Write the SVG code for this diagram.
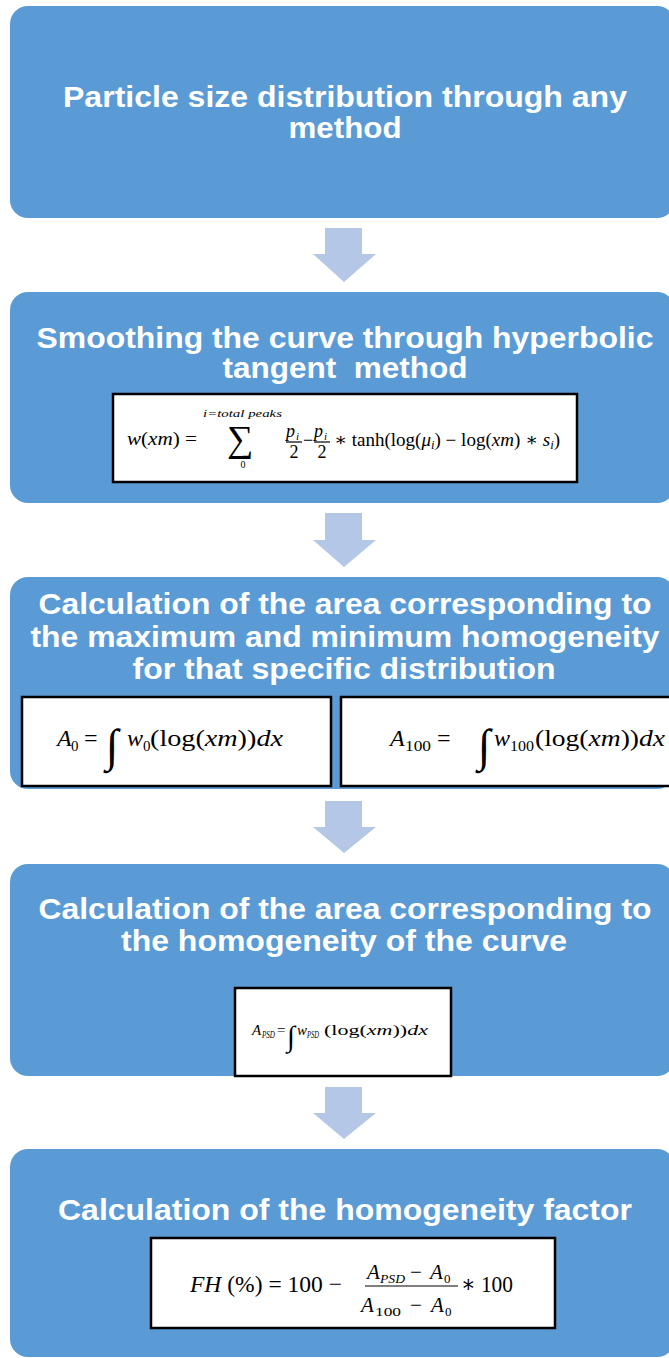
<svg xmlns="http://www.w3.org/2000/svg" width="669" height="1358" viewBox="0 0 669 1358">
<style>
.box{fill:#5B9BD5}
.arr{fill:#B4C7E7}
.fb{fill:#fff;stroke:#000;stroke-width:2.5}
.t{font-family:"Liberation Sans",Arial,sans-serif;font-weight:bold;fill:#fff;font-size:30px;text-anchor:middle}
.m{font-family:"Liberation Serif","DejaVu Serif",serif;fill:#000}
.i{font-style:italic}
.bar{stroke:#000;stroke-width:1.2}
</style>
<rect width="669" height="1358" fill="#fff"/>
<g id="connectors">
<polygon class="arr" points="325,228 362,228 362,254 376,254 344,282 313,254 325,254"/>
<polygon class="arr" points="325,513 362,513 362,540 376,540 344,567 313,540 325,540"/>
<polygon class="arr" points="325,801 362,801 362,827 376,827 344,853 313,827 325,827"/>
<polygon class="arr" points="325,1087 362,1087 362,1113 376,1113 344,1139 313,1113 325,1113"/>
</g>
<g id="node1">
<rect class="box" x="10" y="6" width="665" height="212" rx="18"/>
<text class="t" x="345" y="107" textLength="564" lengthAdjust="spacingAndGlyphs">Particle size distribution through any</text>
<text class="t" x="345" y="138" textLength="113" lengthAdjust="spacingAndGlyphs">method</text>
</g>
<g id="node2">
<rect class="box" x="10" y="292" width="665" height="211" rx="18"/>
<text class="t" x="345" y="348" textLength="617" lengthAdjust="spacingAndGlyphs">Smoothing the curve through hyperbolic</text>
<text class="t" x="345" y="378" textLength="245" lengthAdjust="spacingAndGlyphs" xml:space="preserve">tangent  method</text>
<rect class="fb" x="113" y="394" width="464" height="88"/>
<text class="m" x="127" y="445" font-size="19" textLength="70" lengthAdjust="spacingAndGlyphs"><tspan class="i">w</tspan>(<tspan class="i">xm</tspan>) =</text>
<text class="m i" x="203" y="417" font-size="10" textLength="79" lengthAdjust="spacingAndGlyphs">i=total  peaks</text>
<text class="m" x="240" y="451" font-size="37" text-anchor="middle">∑</text>
<text class="m" x="243" y="468" font-size="10" text-anchor="middle">0</text>
<text class="m i" x="286" y="437" font-size="18">p</text>
<text class="m i" x="296" y="440" font-size="11">i</text>
<line class="bar" x1="286" y1="442" x2="302" y2="442"/>
<text class="m" x="294" y="458" font-size="18" text-anchor="middle">2</text>
<text class="m" x="303" y="446" font-size="18">−</text>
<text class="m i" x="314" y="437" font-size="18">p</text>
<text class="m i" x="324" y="440" font-size="11">i</text>
<line class="bar" x1="314" y1="442" x2="330" y2="442"/>
<text class="m" x="322" y="458" font-size="18" text-anchor="middle">2</text>
<text class="m" x="334" y="446" font-size="18" textLength="226" lengthAdjust="spacingAndGlyphs">∗ tanh(log(<tspan class="i">μ</tspan><tspan class="i" font-size="12" dy="3">i</tspan><tspan dy="-3">) − log(</tspan><tspan class="i">xm</tspan>) ∗ <tspan class="i">s</tspan><tspan class="i" font-size="12" dy="3">i</tspan><tspan dy="-3">)</tspan></text>
</g>
<g id="node3">
<rect class="box" x="10" y="577" width="665" height="212" rx="18"/>
<text class="t" x="345" y="614" textLength="613" lengthAdjust="spacingAndGlyphs">Calculation of the area corresponding to</text>
<text class="t" x="345" y="647" textLength="629" lengthAdjust="spacingAndGlyphs">the maximum and minimum homogeneity</text>
<text class="t" x="344" y="679" textLength="423" lengthAdjust="spacingAndGlyphs">for that specific distribution</text>
<rect class="fb" x="22" y="697" width="309" height="89"/>
<text class="m i" x="57" y="746" font-size="24">A</text>
<text class="m" x="71" y="751" font-size="15">0</text>
<text class="m" x="84" y="746" font-size="24">=</text>
<text class="m" x="112" y="761" font-size="46" text-anchor="middle">∫</text>
<text class="m i" x="127" y="746" font-size="24">w</text>
<text class="m" x="143" y="751" font-size="15">0</text>
<text class="m" x="150" y="746" font-size="24" textLength="133" lengthAdjust="spacingAndGlyphs">(log(<tspan class="i">xm</tspan>))<tspan class="i">dx</tspan></text>
<rect class="fb" x="341" y="697" width="340" height="89"/>
<text class="m i" x="390" y="746" font-size="24">A</text>
<text class="m" x="405" y="751" font-size="15" textLength="26" lengthAdjust="spacingAndGlyphs">100</text>
<text class="m" x="437" y="746" font-size="24">=</text>
<text class="m" x="484" y="761" font-size="46" text-anchor="middle">∫</text>
<text class="m i" x="494" y="746" font-size="24">w</text>
<text class="m" x="510" y="751" font-size="15" textLength="24" lengthAdjust="spacingAndGlyphs">100</text>
<text class="m" x="535" y="746" font-size="24" textLength="130" lengthAdjust="spacingAndGlyphs">(log(<tspan class="i">xm</tspan>))<tspan class="i">dx</tspan></text>
</g>
<g id="node4">
<rect class="box" x="10" y="864" width="665" height="212" rx="18"/>
<text class="t" x="345" y="919" textLength="613" lengthAdjust="spacingAndGlyphs">Calculation of the area corresponding to</text>
<text class="t" x="344" y="951" textLength="446" lengthAdjust="spacingAndGlyphs">the homogeneity of the curve</text>
<rect class="fb" x="235" y="988" width="216" height="88"/>
<text class="m i" x="252" y="1035" font-size="15">A</text>
<text class="m i" x="262" y="1038" font-size="9.5" textLength="13" lengthAdjust="spacingAndGlyphs">PSD</text>
<text class="m" x="277" y="1035" font-size="15">=</text>
<text class="m" x="291" y="1046" font-size="29" text-anchor="middle">∫</text>
<text class="m i" x="297" y="1035" font-size="15">w</text>
<text class="m i" x="307" y="1038" font-size="9.5" textLength="12" lengthAdjust="spacingAndGlyphs">PSD</text>
<text class="m" x="324" y="1035" font-size="15" textLength="104" lengthAdjust="spacingAndGlyphs">(log(<tspan class="i">xm</tspan>))<tspan class="i">dx</tspan></text>
</g>
<g id="node5">
<rect class="box" x="10" y="1149" width="665" height="208" rx="18"/>
<text class="t" x="345" y="1220" textLength="574" lengthAdjust="spacingAndGlyphs">Calculation of the homogeneity factor</text>
<rect class="fb" x="151" y="1238" width="404" height="90"/>
<text class="m" x="190" y="1292" font-size="24" textLength="152" lengthAdjust="spacingAndGlyphs"><tspan class="i">FH</tspan> (%) = 100 −</text>
<text class="m i" x="367" y="1279" font-size="21">A</text>
<text class="m i" x="380" y="1283" font-size="13" textLength="25" lengthAdjust="spacingAndGlyphs">PSD</text>
<text class="m" x="410" y="1279" font-size="21">−</text>
<text class="m i" x="430" y="1279" font-size="21">A</text>
<text class="m" x="444" y="1283" font-size="13">0</text>
<line class="bar" x1="365" y1="1286" x2="458" y2="1286"/>
<text class="m i" x="361" y="1312" font-size="21">A</text>
<text class="m" x="375" y="1316" font-size="13" textLength="26" lengthAdjust="spacingAndGlyphs">100</text>
<text class="m" x="410" y="1312" font-size="21">−</text>
<text class="m i" x="431" y="1312" font-size="21">A</text>
<text class="m" x="445" y="1316" font-size="13">0</text>
<text class="m" x="461" y="1292" font-size="24" textLength="52" lengthAdjust="spacingAndGlyphs">∗ 100</text>
</g>
</svg>
